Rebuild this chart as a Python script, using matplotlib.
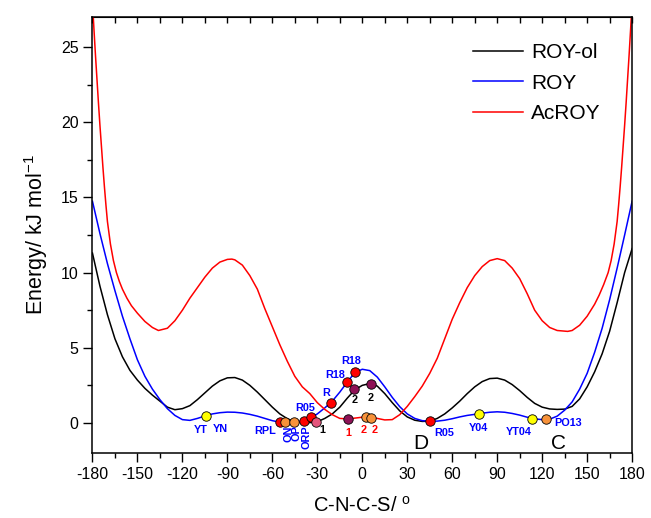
import matplotlib
matplotlib.use("Agg")
import matplotlib.pyplot as plt
from matplotlib.ticker import MultipleLocator

plt.rcParams['font.family'] = ['Liberation Sans', 'DejaVu Sans']
plt.rcParams['axes.unicode_minus'] = False

# Torsional energy profiles (kJ/mol) versus the C-N-C-S dihedral (degrees)
grid_deg = list(range(-180, 181, 5))

roy_ol_E = [11.3, 9.1, 7.2, 5.6, 4.4, 3.5, 2.85, 2.3, 1.85, 1.45, 1.05, 0.88, 0.95,
            1.15, 1.55, 2.0, 2.45, 2.8, 3.0, 3.02, 2.85, 2.5, 2.05, 1.55, 1.05, 0.6,
            0.28, 0.08, 0.01, 0.02, 0.08, 0.3, 0.6, 1.05, 1.65, 2.2, 2.5, 2.62, 2.45,
            1.95, 1.35, 0.8, 0.4, 0.18, 0.1, 0.12, 0.3, 0.6, 1.0, 1.45, 1.95, 2.4,
            2.75, 2.95, 2.98, 2.85, 2.55, 2.15, 1.7, 1.3, 1.05, 0.93, 0.9, 0.92, 1.1,
            1.6, 2.4, 3.4, 4.6, 6.1, 8.0, 10.0, 11.6]

roy_E = [14.75, 12.6, 10.6, 8.8, 7.1, 5.6, 4.2, 3.1, 2.25, 1.55, 0.95, 0.5, 0.22,
         0.17, 0.3, 0.46, 0.6, 0.68, 0.72, 0.71, 0.66, 0.57, 0.45, 0.3, 0.15, 0.05,
         0.03, 0.05, 0.13, 0.3, 0.6, 1.0, 1.45, 2.05, 2.72, 3.35, 3.57, 3.48, 3.05,
         2.4, 1.7, 1.08, 0.6, 0.3, 0.15, 0.12, 0.12, 0.18, 0.28, 0.4, 0.5, 0.57,
         0.65, 0.71, 0.74, 0.71, 0.63, 0.52, 0.38, 0.27, 0.22, 0.25, 0.45, 0.85, 1.4,
         2.25, 3.3, 4.7, 6.3, 8.2, 10.3, 12.5, 14.75]

acroy_deg = [-180, -179, -178, -177, -176, -175, -174, -173, -172, -171, -170, -168,
             -166, -164, -162, -160, -157, -154, -150, -145, -140, -136, -130, -125,
             -120, -115, -110, -105, -100, -95, -90, -87, -85, -80, -75, -70, -65,
             -60, -55, -50, -45, -40, -35, -30, -25, -20, -15, -10, -5, 0, 5, 10,
             15, 20, 25, 30, 35, 40, 45, 50, 55, 60, 65, 70, 75, 80, 85, 90, 95, 100,
             105, 110, 115, 120, 125, 130, 137, 140, 145, 150, 155, 158, 161, 164,
             166, 168, 170, 171, 172, 173, 174, 175, 176, 177, 178, 179, 180]
acroy_E = [28.0, 26.2, 24.5, 22.9, 21.3, 19.8, 18.4, 17.0, 15.7, 14.5, 13.4, 11.9,
           10.8, 10.0, 9.4, 8.9, 8.3, 7.8, 7.3, 6.75, 6.35, 6.15, 6.3, 6.8,
           7.5, 8.3, 9.0, 9.7, 10.3, 10.7, 10.88, 10.9, 10.85, 10.5, 9.8, 8.9, 7.6,
           6.4, 5.2, 4.1, 3.1, 2.4, 1.95, 1.35, 0.9, 0.55, 0.3, 0.27, 0.32, 0.38,
           0.38, 0.3, 0.2, 0.22, 0.55, 1.1, 1.75, 2.45, 3.3, 4.3, 5.6, 6.9, 8.0,
           9.0, 9.8, 10.4, 10.8, 10.93, 10.8, 10.3, 9.6, 8.6, 7.5, 6.8, 6.35, 6.15,
           6.09, 6.15, 6.5, 7.1, 7.9, 8.5, 9.2, 10.0, 10.8, 11.9, 13.4, 14.5, 15.7,
           17.0, 18.4, 19.8, 21.3, 22.9, 24.5, 26.2, 28.0]

# Observed polymorph conformations (dihedral, energy, fill colour)
YELLOW, RED, ORANGE, PURPLE, PINK = '#ffff00', '#ff0000', '#f7923a', '#8e1256', '#e4557c'
poly_deg = [-104.5, -55, -51.7, -45.7, -39, -33.9, -21.2, -9.9, -4.8,
            45.5, 77.7, 113.4, 122.8,
            -30.6, -5.4, 5.7,
            -9.4, 2.8, 6.1]
poly_E = [0.47, 0.05, 0.05, 0.05, 0.15, 0.38, 1.31, 2.73, 3.38,
          0.12, 0.58, 0.27, 0.24,
          0.05, 2.24, 2.62,
          0.27, 0.38, 0.33]
poly_color = [YELLOW, RED, ORANGE, ORANGE, RED, RED, RED, RED, RED,
              RED, YELLOW, YELLOW, ORANGE,
              PINK, PURPLE, PURPLE,
              PURPLE, ORANGE, ORANGE]

# Polymorph names (text, dihedral, energy, colour, rotation)
name_text = ['YT', 'YN', 'RPL', 'ON', 'OP', 'ORP', 'R05', 'R', 'R18', 'R18',
             'R05', 'Y04', 'YT04', 'PO13',
             '1', '2', '2', '1', '2', '2']
name_deg = [-108, -94.5, -65, -49.5, -43.7, -37.2, -38.3, -23.9, -18.3, -7.2,
            54.5, 77.7, 104.3, 137.5,
            -26.5, -5, 5.7, -9.4, 0.6, 8.3]
name_E = [-0.45, -0.4, -0.55, -0.15, -0.15, -0.15, 0.98, 1.98, 3.2, 4.09,
          -0.65, -0.36, -0.58, -0.02,
          -0.47, 1.53, 1.64, -0.65, -0.47, -0.47]
name_color = ['#0000ff'] * 14 + ['black'] * 3 + ['#ff0000'] * 3
name_rot = [0, 0, 0, 90, 90, 90, 0, 0, 0, 0, 0, 0, 0, 0, 0, 0, 0, 0, 0, 0]

fig = plt.figure(figsize=(6.51, 5.18), dpi=100)
ax = fig.add_axes([0.142, 0.1255, 0.829, 0.8415])

ax.plot(grid_deg, roy_ol_E, color='black', lw=1.1, label='ROY-ol', zorder=2)
ax.plot(grid_deg, roy_E, color='#0000ff', lw=1.1, label='ROY', zorder=2)
ax.plot(acroy_deg, acroy_E, color='#ff0000', lw=1.1, label='AcROY', zorder=2)

for d, e, c in zip(poly_deg, poly_E, poly_color):
    ax.plot(d, e, 'o', ms=6.8, mfc=c, mec='black', mew=0.6, zorder=3)

for t, d, e, c, r in zip(name_text, name_deg, name_E, name_color, name_rot):
    if r:
        ax.text(d, e, t, color=c, fontsize=7.8, fontweight='bold', rotation=90,
                ha='center', va='top', zorder=4)
    else:
        ax.text(d, e, t, color=c, fontsize=7.8, fontweight='bold',
                ha='center', va='center', zorder=4)

ax.text(38.8, -1.35, 'D', fontsize=15, ha='center', va='center')
ax.text(131.2, -1.35, 'C', fontsize=15, ha='center', va='center')

ax.set_xlim(-180, 180)
ax.set_ylim(-2, 27)
ax.xaxis.set_major_locator(MultipleLocator(30))
ax.xaxis.set_minor_locator(MultipleLocator(15))
ax.yaxis.set_major_locator(MultipleLocator(5))
ax.yaxis.set_minor_locator(MultipleLocator(2.5))
ax.tick_params(which='major', direction='out', length=6.5, width=1.0, labelsize=11.5)
ax.tick_params(which='minor', direction='out', length=3.5, width=1.0)
ax.tick_params(axis='both', which='both', top=False, right=False)
for s in ax.spines.values():
    s.set_linewidth(1.1)

top = ax.secondary_xaxis('top')
top.xaxis.set_major_locator(MultipleLocator(15))
top.tick_params(direction='in', length=4, width=1.0, labelsize=0)
top.set_xticklabels([])

ax.set_xlabel('C-N-C-S/ $^\\mathregular{o}$', fontsize=14.5, labelpad=10)
ax.set_ylabel('Energy/ kJ mol$^\\mathregular{-1}$', fontsize=15.5, labelpad=8)

ax.legend(loc='upper left', bbox_to_anchor=(0.705, 0.94), frameon=False,
          fontsize=15, handlelength=2.4, handletextpad=0.4, labelspacing=0.55,
          borderpad=0, borderaxespad=0)

fig.savefig('out.png', dpi=100)
